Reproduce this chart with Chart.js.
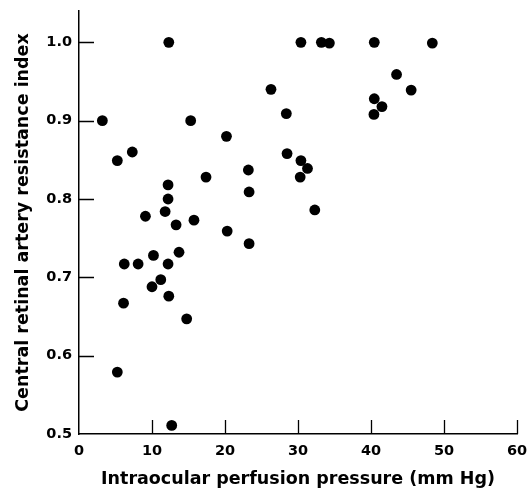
<!DOCTYPE html>
<html>
<head>
<meta charset="utf-8">
<script src="https://cdn.jsdelivr.net/npm/chart.js@4"></script>
<style>
  body { margin: 0; background: #fff; }
  canvas { display: block; }
</style>
</head>
<body>
<canvas id="chart" width="531" height="490"></canvas>
<script>
// values
const pressure = [
    12.3, 3.2, 15.3, 5.25, 7.3, 20.2, 17.4, 23.2, 23.3, 12.2,
    12.2, 9.1, 11.8, 13.3, 15.75, 20.3, 23.3, 13.7,
    6.2, 8.1, 10.2, 12.2, 10.0, 11.2, 12.3, 6.1, 14.75, 5.25, 12.7,
    30.4, 33.2, 34.3, 40.45, 48.4, 43.5, 26.3, 45.5, 40.45, 41.5,
    40.4, 28.4, 28.5, 30.4, 31.3, 30.3, 32.3
];
const resistance = [
    1.0, 0.90, 0.90, 0.849, 0.86, 0.88, 0.828, 0.837, 0.809, 0.818,
    0.80, 0.778, 0.784, 0.767, 0.773, 0.759, 0.743, 0.732,
    0.717, 0.717, 0.728, 0.717, 0.688, 0.697, 0.676, 0.667, 0.647, 0.579, 0.511,
    1.0, 1.0, 0.999, 1.0, 0.999, 0.959, 0.94, 0.939, 0.928, 0.918,
    0.908, 0.909, 0.858, 0.849, 0.839, 0.828, 0.786
];
const xTicks = [0, 10, 20, 30, 40, 50, 60];
const yTicks = [0.5, 0.6, 0.7, 0.8, 0.9, 1.0];

const points = pressure.map((x, i) => ({ x: x, y: resistance[i] }));
const family = '"DejaVu Sans", Arial, sans-serif';
const tickFont = { family: family, weight: 'bold', size: 14.5 };
const titleFont = { family: family, weight: 'bold', size: 17.5 };

// short tick marks drawn inward from the axes
const innerTicks = {
    id: 'innerTicks',
    afterDraw(chart) {
        const ctx = chart.ctx;
        const xs = chart.scales.x, ys = chart.scales.y;
        ctx.save();
        ctx.strokeStyle = '#000';
        ctx.lineWidth = 1.3;
        ctx.beginPath();
        xTicks.forEach(v => {
            if (v === 0) return;
            const px = Math.round(xs.getPixelForValue(v)) + 0.5;
            ctx.moveTo(px, xs.top);
            ctx.lineTo(px, xs.top - 14);
        });
        yTicks.forEach(v => {
            if (v === 0.5) return;
            const py = Math.round(ys.getPixelForValue(v)) + 0.5;
            ctx.moveTo(ys.right, py);
            ctx.lineTo(ys.right + 15, py);
        });
        ctx.stroke();
        ctx.restore();
    }
};

new Chart(document.getElementById('chart'), {
    type: 'scatter',
    data: {
        datasets: [{
            data: points,
            backgroundColor: '#000',
            borderWidth: 0,
            pointRadius: 5.4,
            pointHoverRadius: 5.4
        }]
    },
    options: {
        responsive: false,
        animation: false,
        layout: { padding: { top: 11, right: 14 } },
        plugins: { legend: { display: false }, tooltip: { enabled: false } },
        scales: {
            x: {
                type: 'linear',
                min: 0,
                max: 60,
                afterBuildTicks: s => { s.ticks = xTicks.map(v => ({ value: v })); },
                afterFit: s => { s.height = 56; s.paddingLeft = 0; s.paddingRight = 0; },
                grid: { display: false, drawTicks: false },
                border: { display: true, color: '#000', width: 1.5 },
                ticks: { color: '#000', font: tickFont, padding: 9, maxRotation: 0 },
                title: {
                    display: true,
                    text: 'Intraocular perfusion pressure (mm Hg)',
                    color: '#000',
                    font: titleFont,
                    padding: { top: 0, bottom: 0 }
                }
            },
            y: {
                type: 'linear',
                min: 0.5,
                max: 1.04,
                afterBuildTicks: s => { s.ticks = yTicks.map(v => ({ value: v })); },
                afterFit: s => { s.width = 79; s.paddingTop = 0; s.paddingBottom = 0; },
                grid: { display: false, drawTicks: false },
                border: { display: true, color: '#000', width: 1.5 },
                ticks: { color: '#000', font: tickFont, padding: 7, callback: v => v.toFixed(1) },
                title: {
                    display: true,
                    text: 'Central retinal artery resistance index',
                    color: '#000',
                    font: titleFont,
                    padding: { top: 13, bottom: 0 }
                }
            }
        }
    },
    plugins: [innerTicks]
});
</script>
</body>
</html>
